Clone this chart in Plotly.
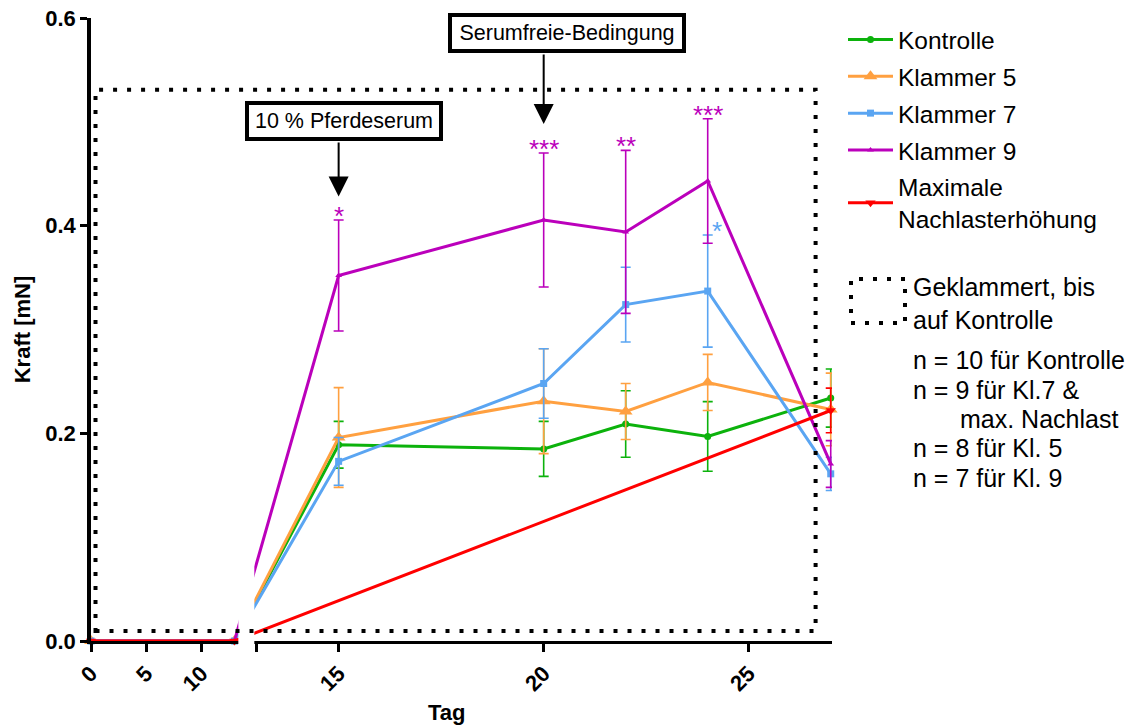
import plotly.graph_objects as go

# ---------------- data ----------------
days = [0, 13, 15, 20, 22, 24, 27]
kontrolle = [0, 0, 0.189, 0.185, 0.209, 0.197, 0.234]
kontrolle_sem = [None, None, 0.0225, 0.0265, 0.032, 0.0335, 0.028]
klammer5 = [0, 0, 0.196, 0.231, 0.221, 0.249, 0.223]
klammer5_sem = [None, None, 0.048, 0.0505, 0.027, 0.027, 0.035]
klammer7 = [0, 0, 0.173, 0.248, 0.324, 0.337, 0.161]
klammer7_sem = [None, None, 0.023, 0.0335, 0.036, 0.054, 0.016]
klammer9 = [0, 0, 0.352, 0.4055, 0.394, 0.443, 0.1705]
klammer9_sem = [None, None, 0.0535, 0.0645, 0.0785, 0.060, 0.0225]
max_days = [0, 13, 27]
max_nachlast = [0, 0, 0.222]
max_nachlast_sem = [None, None, 0.0215]

series_names = ["Kontrolle", "Klammer 5", "Klammer 7", "Klammer 9",
                "Maximale<br>Nachlasterhöhung"]

seg1_ticks = [0, 5, 10]
seg2_ticks = [15, 20, 25]
y_ticks = [0.0, 0.2, 0.4, 0.6]

# significance stars
star_days = [15, 20, 22, 24, 24]
star_series = ["k9", "k9", "k9", "k9", "k7"]
star_texts = ["*", "***", "**", "***", "*"]

event_days = [15, 20]
event_tips = [0.428, 0.498]
event_labels = ["10 % Pferdeserum", "Serumfreie-Bedingung"]

n_lines = ["n = 10 für Kontrolle", "n = 9 für Kl.7 &", "max. Nachlast",
           "n = 8 für Kl. 5", "n = 7 für Kl. 9"]

# ---------------- broken x axis transform ----------------
SEG1_END = 13           # first segment: 0..13 (compressed)
SEG1_SCALE = 11.03 / 41.0
SEG2_START_U = 4.039    # second segment starts at day 13 after a gap
GAP_U0, GAP_U1 = 3.593, 3.983
X_MAX_U = 18.07


def to_u(day, seg=None):
    if seg == 1 or (seg is None and day <= SEG1_END):
        return day * SEG1_SCALE
    return SEG2_START_U + (day - SEG1_END)


def ux(ds):
    return [to_u(d) for d in ds]


# ---------------- styles ----------------
colors = {"k": "#0cb20c", "k5": "#ffa040", "k7": "#5aa5f2",
          "k9": "#bb00bb", "max": "#ff0000"}
FONT = "Arial, Liberation Sans, sans-serif"

fig = go.Figure()


def add_series(x, y, err, name, key, symbol, size):
    fig.add_trace(go.Scatter(
        x=ux(x), y=y, name=name, mode="lines+markers",
        line=dict(color=colors[key], width=3),
        marker=dict(color=colors[key], symbol=symbol, size=size),
        error_y=dict(type="data", array=err, visible=True,
                     color=colors[key], thickness=1.6, width=5),
        cliponaxis=False, legendgroup=key,
    ))


add_series(days, kontrolle, kontrolle_sem, series_names[0], "k", "circle", 7)
add_series(days, klammer5, klammer5_sem, series_names[1], "k5", "triangle-up", 12)
add_series(days, klammer7, klammer7_sem, series_names[2], "k7", "square", 7)
add_series(days, klammer9, klammer9_sem, series_names[3], "k9", "triangle-up", 6)
add_series(max_days, max_nachlast, max_nachlast_sem, series_names[4], "max",
           "triangle-down", 9)

vals = {"k9": (klammer9, klammer9_sem), "k7": (klammer7, klammer7_sem)}

# plot area in pixels
L, R_EDGE, T, B = 91, 832, 18, 641
PW, PH = R_EDGE - L, B - T


def px(xp):
    return (xp - L) / PW


def py(yp):
    return (B - yp) / PH


annotations = []
for d, s, t in zip(star_days, star_series, star_texts):
    v, e = vals[s]
    i = days.index(d)
    annotations.append(dict(
        x=to_u(d), y=v[i] + e[i], xref="x", yref="y", text=t,
        showarrow=False, yanchor="middle", yshift=4,
        xshift=9 if s == "k7" else 0,
        font=dict(family=FONT, size=26, color=colors[s])))

box_centers = [(344, 121), (567, 33)]
box_widths = [186, 226]
for lab, (bx, by), w in zip(event_labels, box_centers, box_widths):
    annotations.append(dict(
        x=px(bx), y=py(by), xref="paper", yref="paper", text=lab,
        showarrow=False, xanchor="center", yanchor="middle",
        width=w, height=28, align="center", valign="middle",
        font=dict(family=FONT, size=21.5, color="black"),
        bordercolor="black", borderwidth=4, borderpad=2, bgcolor="white"))
for d, tip, tail in zip(event_days, event_tips, [141, 53]):
    tip_px = B - tip * (PH / 0.6)
    annotations.append(dict(
        x=to_u(d), y=tip, xref="x", yref="y", text="",
        showarrow=True, ax=0, ay=tail - tip_px, arrowhead=2,
        arrowsize=2, arrowwidth=2, arrowcolor="black"))

# axis title for x (placed like the original, left of centre)
annotations.append(dict(
    x=px(446), y=py(712), xref="paper", yref="paper", text="Tag",
    showarrow=False, xanchor="center", yanchor="middle",
    font=dict(family=FONT, size=22, weight="bold", color="black")))

# legend extras
annotations.append(dict(
    x=px(911), y=py(303), xref="paper", yref="paper",
    text="Geklammert, bis<br>auf Kontrolle", showarrow=False,
    xanchor="left", yanchor="middle", align="left",
    font=dict(family=FONT, size=25, color="black")))
n_x = [911, 911, 958, 911, 911]
n_y = [360, 390, 419, 448, 478]
for t, xx, yy in zip(n_lines, n_x, n_y):
    annotations.append(dict(
        x=px(xx), y=py(yy), xref="paper", yref="paper", text=t,
        showarrow=False, xanchor="left", yanchor="middle",
        font=dict(family=FONT, size=25, color="black")))

DOT = "4px,10px"
shapes = [
    # break in the x axis
    dict(type="rect", xref="x", yref="paper", x0=GAP_U0, x1=GAP_U1,
         y0=-0.012, y1=1.0, fillcolor="white", line=dict(width=0),
         layer="above"),
    # clamped period box
    dict(type="rect", xref="x", yref="y", x0=0.11, x1=17.67,
         y0=0.0096, y1=0.531, line=dict(color="black", width=4, dash=DOT),
         layer="above"),
    # legend box symbol
    dict(type="rect", xref="paper", yref="paper", x0=px(851), x1=px(905),
         y0=py(323), y1=py(279), line=dict(color="black", width=4, dash=DOT),
         layer="above"),
]

tickvals = [to_u(d, 1) for d in seg1_ticks] + [SEG2_START_U] + \
           [to_u(d, 2) for d in seg2_ticks]
ticktext = [str(d) for d in seg1_ticks] + [""] + [str(d) for d in seg2_ticks]

fig.update_layout(
    width=1137, height=728, autosize=False,
    margin=dict(l=L, r=1137 - R_EDGE, t=T, b=728 - B, autoexpand=False),
    paper_bgcolor="white", plot_bgcolor="white",
    font=dict(family=FONT, color="black"),
    showlegend=True,
    legend=dict(x=px(843), y=py(17), xanchor="left", yanchor="top",
                font=dict(family=FONT, size=24.5, color="black"),
                itemwidth=45,
                tracegroupgap=2, bgcolor="rgba(0,0,0,0)"),
    xaxis=dict(range=[0, X_MAX_U], tickvals=tickvals, ticktext=ticktext,
               tickangle=-45, showline=True, linecolor="black", linewidth=3,
               ticks="outside", ticklen=8, tickwidth=3, tickcolor="black",
               showgrid=False, zeroline=False, automargin=False,
               tickfont=dict(family=FONT, size=22, weight="bold")),
    yaxis=dict(range=[0, 0.6], tickvals=y_ticks, tickformat=".1f",
               showline=True, linecolor="black", linewidth=3.5,
               ticks="outside", ticklen=7, tickwidth=3, tickcolor="black",
               showgrid=False, zeroline=False, automargin=False,
               tickfont=dict(family=FONT, size=22, weight="bold"),
               title=dict(text="Kraft [mN]", standoff=10,
                          font=dict(family=FONT, size=22, weight="bold"))),
    annotations=annotations, shapes=shapes,
)

fig.write_html("out.html")
